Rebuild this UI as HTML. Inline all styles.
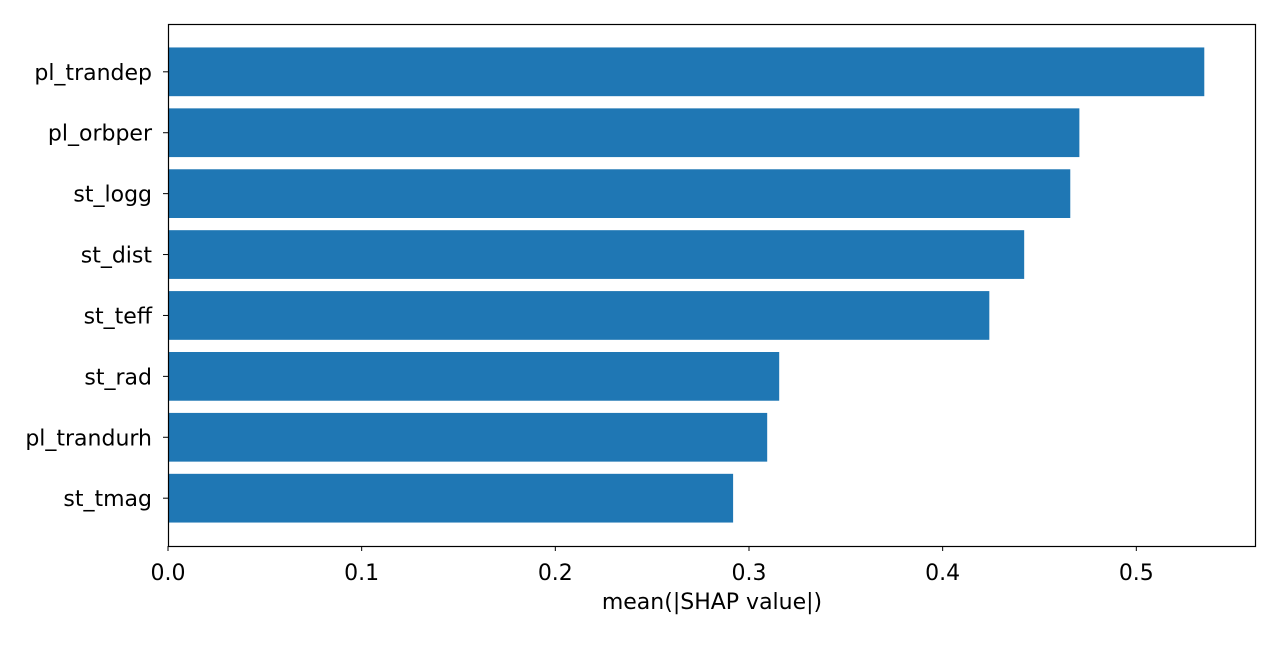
<!DOCTYPE html>
<html><head><meta charset="utf-8"><style>
body{margin:0;background:#fff;}
svg text{font-family:"DejaVu Sans","Liberation Sans",sans-serif;font-size:22px;fill:#000;}
</style></head><body>
<svg id="chart" width="1280" height="640" xmlns="http://www.w3.org/2000/svg"></svg>
<script>
const categories=["pl_trandep","pl_orbper","st_logg","st_dist","st_teff","st_rad","pl_trandurh","st_tmag"];
const values=[0.5351,0.4706,0.4659,0.4421,0.4241,0.3156,0.3094,0.2918];
const xTicks=[0.0,0.1,0.2,0.3,0.4,0.5];
const xTickLabels=["0.0","0.1","0.2","0.3","0.4","0.5"];
const xMax=0.5618;
const L=168,R=1256,T=24,B=546;
const svg=document.getElementById('chart');
const NS="http://www.w3.org/2000/svg";
const xs=v=>L+(v/xMax)*(R-L);
const band=(B-T)/(categories.length+0.57);
const yc=i=>T+band*(0.785+i);
function mk(tag,attrs){const e=document.createElementNS(NS,tag);for(const k in attrs)e.setAttribute(k,attrs[k]);svg.appendChild(e);return e;}
categories.forEach((c,i)=>{
  const r=mk('rect',{x:L,y:yc(i)-band*0.4,width:xs(values[i])-L,height:band*0.8,fill:'#1f77b4'});
  
  
  const t=mk('line',{x1:L-5,x2:L,y1:yc(i),y2:yc(i),stroke:'#000','stroke-width':1});
  
  
  const l=mk('text',{x:L-16,y:yc(i)+8,'text-anchor':'end'});
  l.textContent=c;
  
  
});
xTicks.forEach((v,i)=>{
  const t=mk('line',{x1:xs(v),x2:xs(v),y1:B,y2:B+5,stroke:'#000','stroke-width':1});
  
  
  const l=mk('text',{x:xs(v),y:B+34,'text-anchor':'middle'});
  l.textContent=xTickLabels[i];
  
  
});
const f=mk('rect',{x:L+0.5,y:T+0.5,width:R-L-1,height:B-T,fill:'none',stroke:'#000','stroke-width':1.2});


const xt=mk('text',{x:(L+R)/2,y:609,'text-anchor':'middle'});
xt.textContent="mean(|SHAP value|)";


</script>
</body></html>
